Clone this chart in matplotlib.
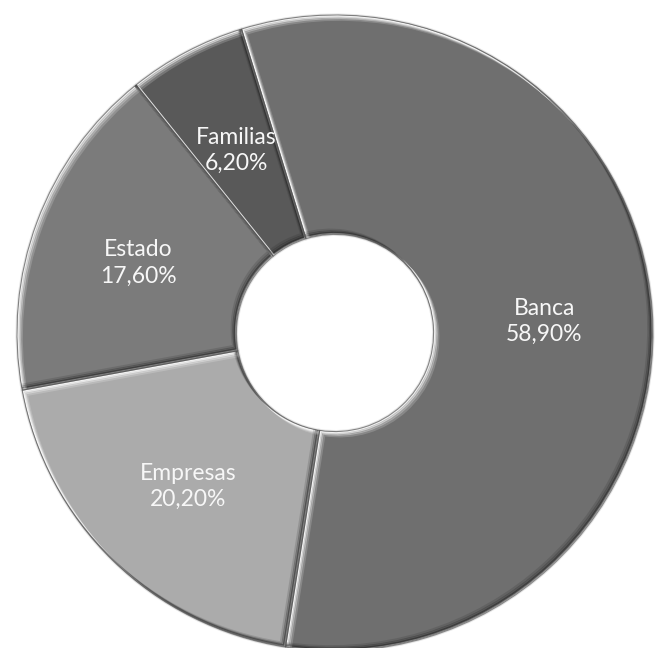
import matplotlib
matplotlib.use("Agg")
import matplotlib.pyplot as plt
from matplotlib.patches import PathPatch
from matplotlib.transforms import ScaledTranslation
import numpy as np

# Debt holders (shares as printed on the labels)
categories = ["Banca", "Empresas", "Estado", "Familias"]
shares = [58.90, 20.20, 17.60, 6.20]
labels = ["58,90%", "20,20%", "17,60%", "6,20%"]
colors = ["#6f6f6f", "#ababab", "#7b7b7b", "#595959"]

W, H, DPI = 657, 648, 100
fig = plt.figure(figsize=(W / DPI, H / DPI), dpi=DPI)
ax = fig.add_axes([0, 0, 1, 1])

hole = 0.31
wedges, _ = ax.pie(
    shares, colors=colors, startangle=107.1, counterclock=False,
    radius=1.0,
    wedgeprops=dict(width=1 - hole, edgecolor="#e6e6e6", linewidth=2.2),
)

# ring geometry in pixels
cx, cy, R = 335, 333, 318
ax.set_aspect("auto")
ax.set_xlim(-cx / R, (W - cx) / R)
ax.set_ylim(-(H - cy) / R, cy / R)
ax.set_axis_off()

# soft bevel: light rim on the upper-left inner edges, dark rim on the lower-right
def offset(dx, dy):
    return ax.transData + ScaledTranslation(dx / 72, dy / 72, fig.dpi_scale_trans)

for w in wedges:
    path = w.get_path()
    for k, a in [(1.0, 0.55), (2.0, 0.35), (3.2, 0.18)]:
        hl = PathPatch(path, transform=offset(k, -k), fill=False,
                       edgecolor="white", linewidth=2.0, alpha=a, zorder=3)
        hl.set_clip_path(w)
        ax.add_patch(hl)
        sh = PathPatch(path, transform=offset(-k, k), fill=False,
                       edgecolor="#202020", linewidth=2.0, alpha=a * 0.9, zorder=3)
        sh.set_clip_path(w)
        ax.add_patch(sh)
    edge = PathPatch(path, transform=ax.transData, fill=False,
                     edgecolor="#4a4a4a", linewidth=0.8, alpha=0.6, zorder=4)
    ax.add_patch(edge)

# labels in the middle of the ring
rmid = (1 + hole) / 2 + 0.005
for w, name, lab in zip(wedges, categories, labels):
    ang = np.deg2rad((w.theta1 + w.theta2) / 2)
    ax.text(rmid * np.cos(ang), rmid * np.sin(ang) - 0.01, f"{name}\n{lab}",
            ha="center", va="center", color="#f7f7f7",
            family=["Lato", "DejaVu Sans"], fontsize=16.5, linespacing=1.3,
            zorder=5)

fig.savefig("out.png", dpi=DPI, facecolor="white")
